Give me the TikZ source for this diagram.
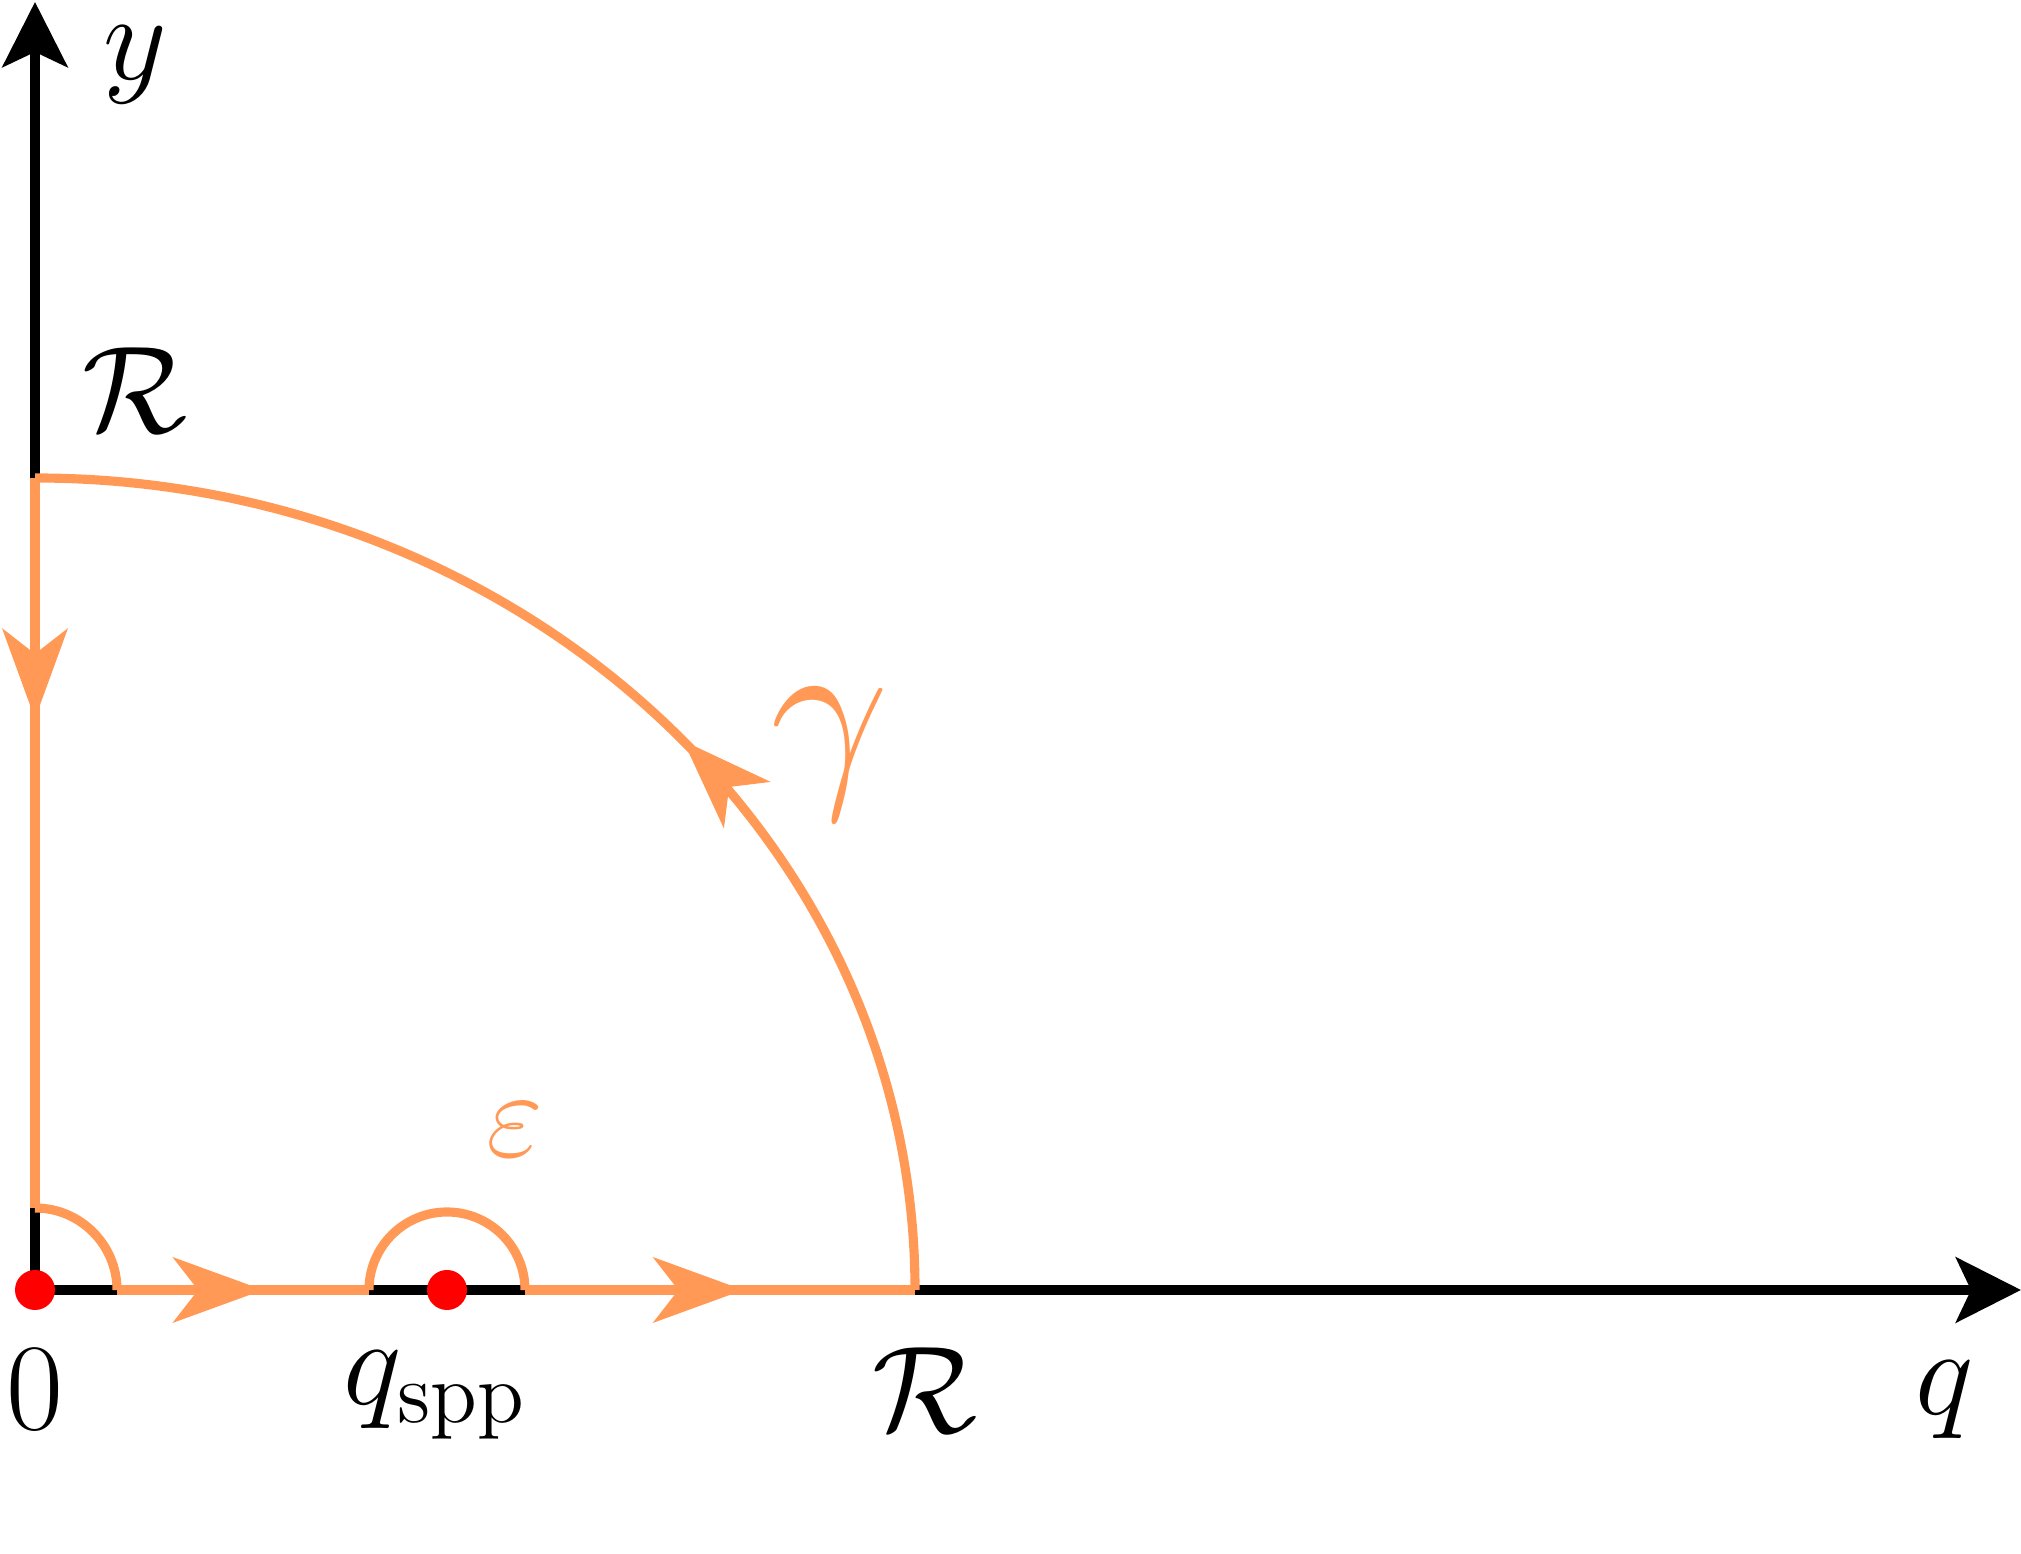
\documentclass[tikz,border=0pt]{standalone}
\usepackage{amsmath}
\usetikzlibrary{arrows.meta,decorations.markings}
\definecolor{contour}{RGB}{255,153,85}
\tikzset{
    axis/.style={line width=2.8pt, -{Stealth[length=0.65cm,width=0.65cm,inset=0.15cm]}},
    path/.style={contour, line width=2.6pt},
    flow/.style={postaction={decorate}, decoration={markings,
        mark=at position #1 with {\arrow{Stealth[length=0.9cm,width=0.65cm,inset=0.25cm]}}}},
    big/.style={font=\huge, scale=1.7},
}
\begin{document}
\begin{tikzpicture}
    \useasboundingbox (-0.35,-2.64) rectangle (19.86,12.9);
    % axes
    \coordinate (origin) at (0,0);
    \coordinate (xend) at (19.86,0);
    \coordinate (yend) at (0,12.88);
    \draw[axis] (origin) -- (xend);
    \draw[axis] (origin) -- (yend);

    % contour
    \coordinate (top) at (0,8.12);
    \coordinate (right) at (8.8,0);
    \draw[path, flow=0.33] (top) -- (0,0.82);
    \draw[path] (0,0.82) arc (90:0:0.82);
    \draw[path, flow=0.58] (0.82,0) -- (3.34,0);
    \draw[path] (3.34,0) arc (180:0:0.78);
    \draw[path, flow=0.56] (4.9,0) -- (right);
    \draw[path, flow=0.46] (right) arc (0:90:8.8 and 8.12);

    % poles
    \fill[red] (origin) circle (0.2);
    \fill[red] (4.12,0) circle (0.2);

    % labels
    \node[big] (ylab) at (1.0,12.25) {$y$};
    \node[big] (rtop) at (1.0,9.0) {$\mathcal{R}$};
    \node[font=\huge, scale=2.9, contour] (gamma) at (7.95,5.35) {$\gamma$};
    \node[big, contour] (eps) at (4.8,1.6) {$\varepsilon$};
    \node[big] (zero) at (0,-1.0) {$0$};
    \node[big] (qspp) at (4.0,-1.05) {$q_{\text{spp}}$};
    \node[big] (rbot) at (8.9,-1.0) {$\mathcal{R}$};
    \node[big] (qlab) at (19.1,-1.1) {$q$};
\end{tikzpicture}
\end{document}
